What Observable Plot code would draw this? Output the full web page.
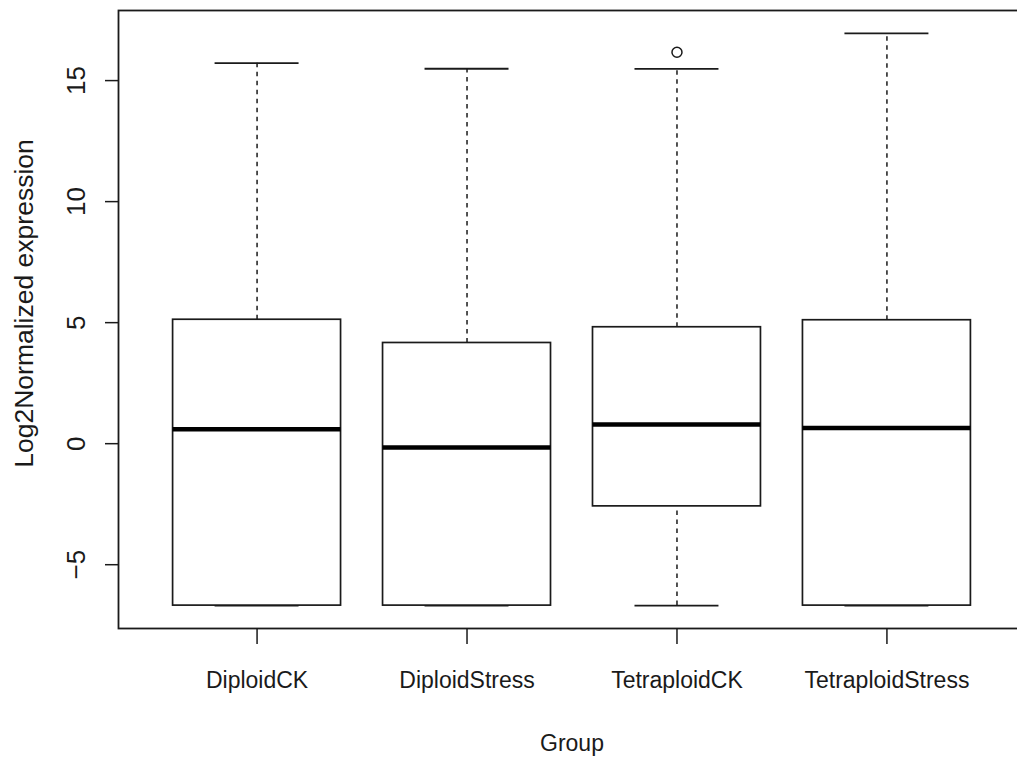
<!DOCTYPE html>
<html><head><meta charset="utf-8">
<script src="https://cdn.jsdelivr.net/npm/d3@7"></script>
<script src="https://cdn.jsdelivr.net/npm/@observablehq/plot@0.6"></script>
<style>
html,body{margin:0;padding:0;background:#fff;overflow:hidden}
#chart svg{max-width:none !important;display:block}
</style></head><body><div id="chart"></div>
<script>
// ---- data ----
const groups = ["DiploidCK", "DiploidStress", "TetraploidCK", "TetraploidStress"];
const lowerWhisker = [-6.69, -6.69, -6.69, -6.69];
const q1 = [-6.69, -6.69, -2.59, -6.69];
const median = [0.60, -0.16, 0.79, 0.65];
const q3 = [5.12, 4.16, 4.81, 5.10];
const upperWhisker = [15.72, 15.49, 15.48, 16.95];
const outlierGroups = ["TetraploidCK"];
const outlierValues = [16.17];
const yTicks = [-5, 0, 5, 10, 15];
const xLabel = "Group";
const yLabel = "Log2Normalized expression";

// ---- table built from arrays ----
const boxes = groups.map((g, i) => ({
  g, pos: i + 1,
  lo: lowerWhisker[i], q1: q1[i], med: median[i], q3: q3[i], hi: upperWhisker[i]
}));
const outliers = outlierGroups.map((g, i) => ({pos: groups.indexOf(g) + 1, v: outlierValues[i]}));

// R-like 4% axis extension
const allVals = [...lowerWhisker, ...upperWhisker, ...outlierValues];
const [ymin, ymax] = d3.extent(allVals);
const ypad = (ymax - ymin) * 0.04;
const xpad = groups.length * 0.04;
const half = 0.4, cap = 0.2;

const font = "'Liberation Sans', Arial, Helvetica, sans-serif";
const ink = "#1a1a1a";

const chart = Plot.plot({
  width: 1026,
  height: 760,
  marginLeft: 118,
  marginRight: 1,
  marginTop: 10,
  marginBottom: 132,
  style: {fontFamily: font, background: "#fff", color: ink},
  x: {domain: [0.5 - xpad, groups.length + 0.5 + xpad]},
  y: {domain: [ymin - ypad, ymax + ypad]},
  marks: [
    // whiskers
    Plot.ruleX(boxes, {x: "pos", y1: "q3", y2: "hi", stroke: ink, strokeWidth: 1.5, strokeDasharray: "4.5,4.5"}),
    Plot.ruleX(boxes, {x: "pos", y1: "lo", y2: "q1", stroke: ink, strokeWidth: 1.5, strokeDasharray: "4.5,4.5"}),
    // staples
    Plot.ruleY(boxes, {y: "hi", x1: d => d.pos - cap, x2: d => d.pos + cap, stroke: ink, strokeWidth: 1.8}),
    Plot.ruleY(boxes, {y: "lo", x1: d => d.pos - cap, x2: d => d.pos + cap, stroke: ink, strokeWidth: 1.8}),
    // boxes
    Plot.rect(boxes, {x1: d => d.pos - half, x2: d => d.pos + half, y1: "q1", y2: "q3", fill: "white", stroke: ink, strokeWidth: 1.7}),
    // medians
    Plot.ruleY(boxes, {y: "med", x1: d => d.pos - half, x2: d => d.pos + half, stroke: "#000", strokeWidth: 4.5}),
    // outliers
    Plot.dot(outliers, {x: "pos", y: "v", r: 5, stroke: ink, strokeWidth: 1.5, fill: "none"}),
    // frame
    Plot.frame({stroke: ink, strokeWidth: 1.8}),
    // axes
    Plot.axisY({ticks: yTicks, tickSize: 13, tickPadding: 21, tickRotate: -90, textAnchor: "middle",
      fontSize: 26, label: null, stroke: ink, strokeWidth: 1.5, fill: ink}),
    Plot.axisX({ticks: groups.map((g, i) => i + 1), tickFormat: v => groups[v - 1], tickSize: 16, tickPadding: 27,
      fontSize: 23, label: null, stroke: ink, strokeWidth: 1.5, fill: ink}),
    // axis titles
    Plot.text([xLabel], {frameAnchor: "bottom", dy: 122, fontSize: 23, fill: ink}),
    Plot.text([yLabel], {frameAnchor: "left", textAnchor: "middle", rotate: -90, dx: -94, dy: -16, fontSize: 26.5, fill: ink})
  ]
});
document.getElementById("chart").appendChild(chart);
</script>
</body></html>
